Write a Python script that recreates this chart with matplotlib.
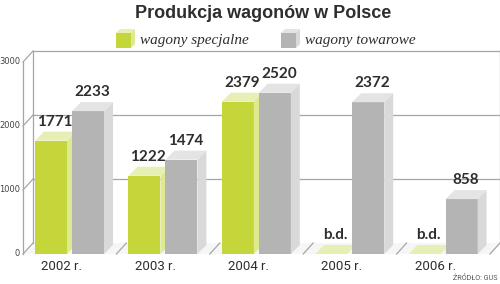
import numpy as np
import matplotlib
matplotlib.use("Agg")
import matplotlib.pyplot as plt
from matplotlib.patches import Polygon

# data
years = ["2002 r.", "2003 r.", "2004 r.", "2005 r.", "2006 r."]
specjalne = [1771, 1222, 2379, None, None]   # None = b.d. (brak danych)
towarowe = [2233, 1474, 2520, 2372, 858]
series_names = ["wagony specjalne", "wagony towarowe"]
y_ticks = [0, 1000, 2000, 3000]

# colors: front, side, top
green = ("#c5d63a", "#dfe98f", "#e8efb4")
gray = ("#b4b4b4", "#d9d9d9", "#e4e4e4")
line_c = "#a6a6a6"
text_c = "#2e2e2e"

W, H = 500, 284
fig = plt.figure(figsize=(W / 100, H / 100), dpi=100)
fig.patch.set_facecolor("white")

# main axes: front plane of the 3d box, x in categories, y in values
ax = fig.add_axes([23 / W, (H - 254) / H, (490 - 23) / W, (254 - 62) / H])
ax.set_xlim(0, len(years))
ax.set_ylim(0, 3000)
ax.axis("off")

# pixel -> data unit helpers for the fake depth
upx = len(years) / (490 - 23)
upy = 3000 / (254 - 62)
wall_dx, wall_dy = 10 * upx, 11 * upy
bar_dx, bar_dy = 9 * upx, 9 * upy

# back wall + floor
n = len(years)
floor = Polygon([(0, 0), (n, 0), (n + wall_dx, wall_dy), (wall_dx, wall_dy)],
                closed=True, fc="#f6f6f6", ec="none", zorder=1, clip_on=False)
ax.add_patch(floor)
for v in y_ticks:
    if v > 0:
        ax.plot([wall_dx, n + wall_dx], [v + wall_dy, v + wall_dy], color=line_c, lw=0.9,
                zorder=1.2, clip_on=False)
    # left wall diagonals
    ax.plot([0, wall_dx], [v, v + wall_dy], color=line_c, lw=0.9, zorder=1.2, clip_on=False)
    ax.text(-3 * upx, v, str(v), ha="right", va="center", fontsize=6,
            color="#444444", clip_on=False)
ax.plot([0, 0], [0, 3000], color=line_c, lw=0.9, zorder=1.2, clip_on=False)
ax.plot([wall_dx, wall_dx], [wall_dy, 3000 + wall_dy], color=line_c, lw=0.9, zorder=1.2, clip_on=False)
ax.plot([n + wall_dx, n + wall_dx], [wall_dy, 3000 + wall_dy], color=line_c, lw=0.9, zorder=1.2, clip_on=False)
# floor dividers between categories
for k in range(1, n + 1):
    ax.plot([k, k + wall_dx], [0, wall_dy], color=line_c, lw=0.9, zorder=1.3, clip_on=False)

# bar geometry inside a category (in category units)
x = np.arange(n)
bw = 32 * upx
g_off = 12 * upx
t_off = 49 * upx


def bar3d(x0, v, cols, z):
    x1 = x0 + bw
    ax.bar(x0, v, width=bw, align="edge", color=cols[0], zorder=z, clip_on=False)
    side = Polygon([(x1, 0), (x1 + bar_dx, bar_dy), (x1 + bar_dx, v + bar_dy), (x1, v)],
                   closed=True, fc=cols[1], ec="none", zorder=z, clip_on=False)
    top = Polygon([(x0, v), (x0 + bar_dx, v + bar_dy), (x1 + bar_dx, v + bar_dy), (x1, v)],
                  closed=True, fc=cols[2], ec="none", zorder=z, clip_on=False)
    ax.add_patch(side)
    ax.add_patch(top)


lab_font = dict(family="Lato", weight="bold", fontsize=11, color=text_c)
for i in range(n):
    z = 2 + i
    xg = x[i] + g_off
    xt = x[i] + t_off
    if specjalne[i] is None:
        # flat marker on the floor
        flat = Polygon([(xg, 0), (xg + bar_dx, bar_dy), (xg + bw + bar_dx, bar_dy), (xg + bw, 0)],
                       closed=True, fc=green[2], ec="none", zorder=z, clip_on=False)
        ax.add_patch(flat)
        ax.text(xg + bw / 2 + 4 * upx, 12 * upy, "b.d.", ha="center", va="bottom", **lab_font)
    else:
        bar3d(xg, specjalne[i], green, z)
        ax.text(xg + bw / 2 + 4 * upx, specjalne[i] + 12 * upy, str(specjalne[i]),
                ha="center", va="bottom", **lab_font)
    bar3d(xt, towarowe[i], gray, z + 0.5)
    ax.text(xt + bw / 2 + 4 * upx, towarowe[i] + 12 * upy, str(towarowe[i]),
            ha="center", va="bottom", **lab_font)
    ax.text(x[i] + 0.5 - 8 * upx, -12 * upy, years[i], ha="center", va="center",
            family="Roboto", fontsize=9.5, color=text_c, clip_on=False)

# overlay in pixel coords for title, legend, source
ov = fig.add_axes([0, 0, 1, 1], zorder=-1)
ov.set_xlim(0, W)
ov.set_ylim(H, 0)
ov.axis("off")

ov.text(263, 18.5, "Produkcja wagonów w Polsce", ha="center", va="baseline",
        family="Liberation Sans", weight="bold", fontsize=13, color=text_c)

for lx, cols, name in [(116, green, series_names[0]), (281, gray, series_names[1])]:
    ov.add_patch(Polygon([(lx, 48), (lx, 33), (lx + 15, 33), (lx + 15, 48)], fc=cols[0], ec="none"))
    ov.add_patch(Polygon([(lx, 33), (lx + 4, 29), (lx + 19, 29), (lx + 15, 33)], fc=cols[2], ec="none"))
    ov.add_patch(Polygon([(lx + 15, 33), (lx + 19, 29), (lx + 19, 44), (lx + 15, 48)], fc=cols[1], ec="none"))
    ov.text(lx + 24, 44, name, ha="left", va="baseline", family="Liberation Serif",
            style="italic", fontsize=11, color=text_c)

ov.text(498, 279, "ŹRÓDŁO: GUS", ha="right", va="center", family="Roboto",
        fontsize=5.2, color="#555555")

fig.savefig("out.png", dpi=100, facecolor="white")
